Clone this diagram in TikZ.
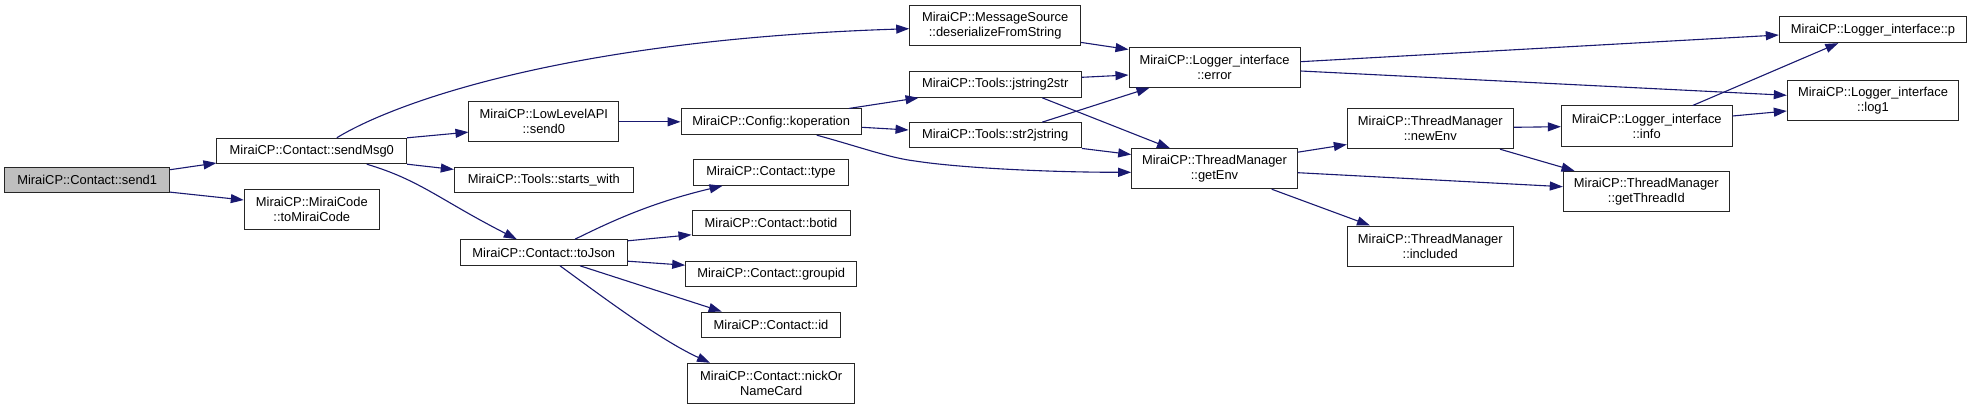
\documentclass[tikz,border=0pt]{standalone}
\usepackage{fontspec}
\setmainfont{Liberation Sans}
\usetikzlibrary{arrows.meta}
\definecolor{edgeblue}{HTML}{191970}
\definecolor{boxline}{HTML}{262626}
\definecolor{rootfill}{HTML}{BFBFBF}
\tikzset{
  box/.style={draw=boxline, line width=1pt, fill=white, inner sep=0pt, align=center,
    font=\fontsize{12.9}{15}\selectfont, text=black},
  rootbox/.style={box, fill=rootfill},
  edge/.style={draw=edgeblue, line width=1.1pt, -{Triangle[length=13pt,width=9pt]}},
}
\begin{document}
\begin{tikzpicture}[x=1pt,y=-1pt]
\useasboundingbox[fill=white] (0,0) rectangle (1972,409);
% nodes
\node[rootbox, minimum width=165pt, minimum height=25.3pt] (send1) at (87.2,180.3) {MiraiCP::Contact::send1};
\node[box, minimum width=189.7pt, minimum height=25.4pt] (sendMsg0) at (311.8,151) {MiraiCP::Contact::sendMsg0};
\node[box, minimum width=149.7pt, minimum height=40.3pt] (send0) at (543.8,121.8) {MiraiCP::LowLevelAPI\\::send0};
\node[box, minimum width=179pt, minimum height=25.3pt] (startswith) at (543.8,180.3) {MiraiCP::Tools::starts\_with};
\node[box, minimum width=135pt, minimum height=40.3pt] (toMiraiCode) at (311.8,209.8) {MiraiCP::MiraiCode\\::toMiraiCode};
\node[box, minimum width=167pt, minimum height=25.6pt] (toJson) at (543.8,252.5) {MiraiCP::Contact::toJson};
\node[box, minimum width=180.3pt, minimum height=25.7pt] (koperation) at (771.2,121.8) {MiraiCP::Config::koperation};
\node[box, minimum width=171pt, minimum height=40.3pt] (msgsrc) at (995.2,25.8) {MiraiCP::MessageSource\\::deserializeFromString};
\node[box, minimum width=172.3pt, minimum height=25.6pt] (jstr) at (995.2,84.5) {MiraiCP::Tools::jstring2str};
\node[box, minimum width=172.3pt, minimum height=25.3pt] (strj) at (995.2,135.3) {MiraiCP::Tools::str2jstring};
\node[box, minimum width=155.4pt, minimum height=25.6pt] (type) at (771,172.5) {MiraiCP::Contact::type};
\node[box, minimum width=158pt, minimum height=25.3pt] (botid) at (771,223.3) {MiraiCP::Contact::botid};
\node[box, minimum width=171pt, minimum height=25.4pt] (groupid) at (771.2,274) {MiraiCP::Contact::groupid};
\node[box, minimum width=139.4pt, minimum height=25.3pt] (cid) at (771,324.7) {MiraiCP::Contact::id};
\node[box, minimum width=167pt, minimum height=40pt] (nick) at (771.2,383.3) {MiraiCP::Contact::nickOr\\NameCard};
\node[box, minimum width=171pt, minimum height=40pt] (error) at (1214.5,67.3) {MiraiCP::Logger\_interface\\::error};
\node[box, minimum width=165.6pt, minimum height=40pt] (getEnv) at (1214.5,168.7) {MiraiCP::ThreadManager\\::getEnv};
\node[box, minimum width=166pt, minimum height=40pt] (newEnv) at (1430.3,128.7) {MiraiCP::ThreadManager\\::newEnv};
\node[box, minimum width=166pt, minimum height=40pt] (included) at (1430.3,246) {MiraiCP::ThreadManager\\::included};
\node[box, minimum width=170.7pt, minimum height=40pt] (info) at (1646.7,126) {MiraiCP::Logger\_interface\\::info};
\node[box, minimum width=166pt, minimum height=40pt] (threadId) at (1646.3,191.3) {MiraiCP::ThreadManager\\::getThreadId};
\node[box, minimum width=187.4pt, minimum height=25.7pt] (p) at (1873,29.8) {MiraiCP::Logger\_interface::p};
\node[box, minimum width=171.4pt, minimum height=40pt] (log1) at (1873,100.7) {MiraiCP::Logger\_interface\\::log1};
% edges
\draw[edge] ([yshift=10.6pt]send1.east) -- ([yshift=1.2pt]sendMsg0.south west);
\draw[edge] ([yshift=1.3pt]send1.south east) -- ([yshift=9.8pt]toMiraiCode.west);
\draw[edge] ([xshift=25pt]sendMsg0.north) .. controls (390,105) and (560,40) .. ([yshift=-2.9pt]msgsrc.west);
\draw[edge] (sendMsg0.north east) -- ([yshift=10.3pt]send0.south west);
\draw[edge] (sendMsg0.south east) -- ([yshift=-2.3pt]startswith.north west);
\draw[edge] ([xshift=55pt]sendMsg0.south) .. controls (420,180) and (440,200) .. ([xshift=-27pt]toJson.north);
\draw[edge] (send0.east) -- (koperation.west);
\draw[edge] ([xshift=-13pt]koperation.north east) -- ([xshift=10pt]jstr.south west);
\draw[edge] ([yshift=-5.5pt]koperation.east) -- ([yshift=5.3pt]strj.west);
\draw[edge] ([xshift=45.5pt]koperation.south) .. controls (860,147) and (890,158) .. (915,161) .. controls (960,168) and (1050,172.3) .. ([yshift=-3.6pt]getEnv.west);
\draw[edge] ([xshift=31.2pt]toJson.north) .. controls (610,222) and (650,203) .. ([xshift=-48.5pt]type.south);
\draw[edge] ([yshift=-1.6pt]toJson.north east) -- ([yshift=1.7pt]botid.south west);
\draw[edge] ([yshift=4.6pt]toJson.south east) -- ([yshift=-4.4pt]groupid.north west);
\draw[edge] ([xshift=36.2pt]toJson.south) -- ([xshift=-49.3pt]cid.north);
\draw[edge] ([xshift=16.2pt]toJson.south) .. controls (600,295) and (660,340) .. ([xshift=-61.2pt]nick.north);
\draw[edge] ([yshift=4pt]msgsrc.south east) -- ([yshift=-2.7pt]error.north west);
\draw[edge] ([yshift=7.2pt]jstr.east) -- ([yshift=-7.7pt]error.west);
\draw[edge] ([xshift=47pt]strj.north) -- ([xshift=21pt]error.south west);
\draw[edge] ([xshift=47pt]jstr.south) -- ([xshift=-44.5pt]getEnv.north);
\draw[edge] (strj.south east) -- ([yshift=-6.3pt]getEnv.north west);
\draw[edge] ([yshift=5.6pt]error.east) -- ([yshift=-5.2pt]p.west);
\draw[edge] ([yshift=-3.7pt]error.east) -- ([yshift=5.4pt]log1.west);
\draw[edge] ([yshift=-4pt]getEnv.north east) -- ([yshift=4.7pt]newEnv.south west);
\draw[edge] ([yshift=-4pt]getEnv.east) -- ([yshift=4.6pt]threadId.west);
\draw[edge] ([xshift=57.2pt]getEnv.south) -- ([xshift=-60.3pt]included.north);
\draw[edge] ([yshift=1.4pt]newEnv.east) -- ([yshift=-0.7pt]info.west);
\draw[edge] ([xshift=69.7pt]newEnv.south) -- ([xshift=11.7pt]threadId.north west);
\draw[edge] ([xshift=46pt]info.north) -- ([xshift=-34.7pt]p.south);
\draw[edge] ([yshift=10pt]info.east) -- ([yshift=-10.3pt]log1.west);
\end{tikzpicture}
\end{document}
